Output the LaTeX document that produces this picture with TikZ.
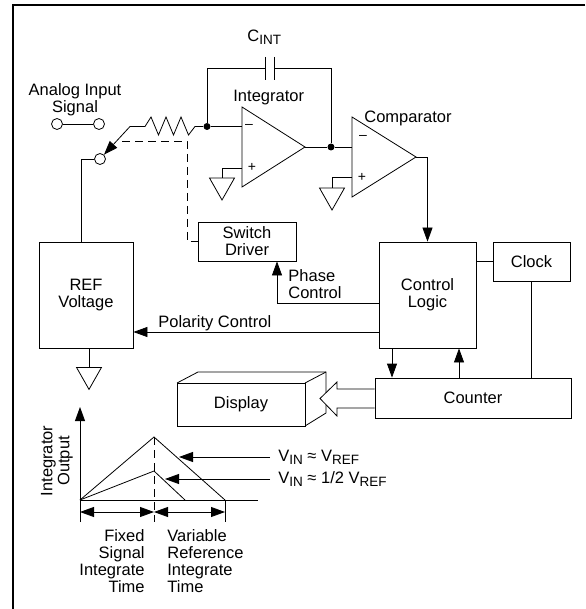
\documentclass[tikz,border=0pt]{standalone}
\usepackage{fontspec}
\setmainfont{Liberation Sans}
\usetikzlibrary{arrows.meta,calc}
\newcommand\subs[1]{\raisebox{-3pt}{\fontsize{13.5}{13.5}\selectfont #1}}
\begin{document}
\begin{tikzpicture}[x=1pt,y=-1pt, line width=0.8pt,
  every node/.style={font=\fontsize{16.5}{17}\selectfont, inner sep=0pt},
  box/.style={draw, rectangle, align=center, fill=white},
  arr/.style={-{Triangle[length=14pt,width=10pt]}},
  darr/.style={{Triangle[length=14pt,width=10pt]}-{Triangle[length=14pt,width=10pt]}},
  dot/.style={circle, fill, minimum size=7pt},
  term/.style={circle, draw, fill=white, minimum size=11pt},
  dsh/.style={dash pattern=on 8pt off 5pt},
  sgn/.style={font=\fontsize{14}{14}\selectfont},
  gnd/.pic={\draw (-12.5,0) -- (12.5,0) -- (0,22) -- cycle;}
]
\useasboundingbox (0,0) rectangle (585,609);
% frame
\draw[line width=2pt] (585,5.5) -- (13,5.5) -- (13,609);

% boxes
\node[box, minimum width=94pt, minimum height=106pt] (ref) at (86,295) {REF\\Voltage};
\node[box, minimum width=97pt, minimum height=106pt] (ctrl) at (427.5,295) {Control\\Logic};
\node[box, minimum width=77pt, minimum height=39pt] (clock) at (531.5,261.5) {Clock};
\node[box, minimum width=196pt, minimum height=40pt] (counter) at (473,398) {Counter};
\node[box, minimum width=98pt, minimum height=39pt] (sw) at (247,241.5) {Switch\\Driver};

% display (3D box)
\draw (177,383) -- (198,372) -- (326,372) -- (326,413) -- (305,426);
\draw (305,383) -- (326,372);
\node[box, minimum width=128pt, minimum height=43pt] (disp) at (241,404.5) {Display};
% wide arrow counter -> display
\draw[fill=white] (counter.west |- 0,389) -- (337,389) -- (337,382) -- (320,398.5) -- (337,416) -- (337,408) -- (counter.west |- 0,408);

% op-amps
\coordinate (intm) at (242,126.5);
\coordinate (intp) at (242,168);
\coordinate (into) at (305,147);
\draw (242,107) -- (242,187) -- (into) -- cycle;
\node[sgn] at (249,126.5) {\textendash};
\node[sgn] at (252,167) {+};
\coordinate (cmpm) at (352,147);
\coordinate (cmpp) at (352,177);
\coordinate (cmpo) at (416,157);
\draw (352,117) -- (352,197) -- (cmpo) -- cycle;
\node[sgn] at (363,137) {\textendash};
\node[sgn] at (362,177) {+};

% labels
\node[anchor=base west] (lint) at (233,102) {Integrator};
\node[anchor=base west] (lcmp) at (364,123) {Comparator};
\node[anchor=base west] (lcint) at (247,42) {C\subs{INT}};
\node[align=center] (lain) at (75,100) {Analog Input\\Signal};
\node[align=left, anchor=west] (lphase) at (288,284.5) {Phase\\Control};
\node[anchor=base west] (lpol) at (158,327) {Polarity Control};

% switch and input
\node[term] (a1) at (57,124) {};
\node[term] (a2) at (99,124) {};
\draw (a1) -- (a2);
\node[term] (s) at (100,159) {};
\coordinate (rl) at (130,126.5);
\node[dot] (j1) at (207,126.5) {};
\node[dot] (j2) at (331,147) {};
\draw[arr] (rl) -- (s);
\draw (rl) -- (145,126.5) -- (151,117) -- (158.5,135) -- (166,117) -- (173.5,135)
  -- (181,117) -- (188.5,135) -- (195,126.5) -- (j1);
\draw (j1) -- (intm);
\draw (into) -- (j2) -- (cmpm);
% capacitor
\draw (j1) |- (265,68);
\draw (265,57) -- (265,80);
\draw (274,57) -- (274,80);
\draw (274,68) -| (j2);
% dashed switch control
\coordinate (dsw) at (122,141);
\draw[dsh] (dsw) -| (187,241.5) -- (sw.west);
% switch to ref
\draw (s.west) -| ($(ref.north)+(-5,0)$);

% grounds
\draw (intp) -| (222,178) pic {gnd};
\draw (cmpp) -| (332,188) pic {gnd};
\draw ($(ref.south)+(3,0)$) -- ++(0,19) pic {gnd};

% control connections
\draw[arr] (cmpo) -| (ctrl.north);
\coordinate (pc) at (277,303);
\draw[arr] (pc -| ctrl.west) -- (pc) -- (pc |- sw.south);
\coordinate (pol) at (300,332);
\draw[arr] (pol -| ctrl.west) -- (pol -| ref.east);
\draw (clock.west) -- (clock.west -| ctrl.east);
\draw (clock.south) -- (clock.south |- counter.north);
\coordinate (cd) at (392,0);
\coordinate (cu) at (459,0);
\draw[arr] (cd |- ctrl.south) -- (cd |- counter.north);
\draw[arr] (cu |- counter.north) -- (cu |- ctrl.south);

% chart
\draw[arr] (80,522) -- (80,407);
\draw (80,500) -- (258,500);
\draw (80,500) -- (154,437) -- (225,500);
\draw (80,500) -- (154,471) -- (185,500);
\draw[dsh] (154,437) -- (154,522);
\draw (225,500) -- (225,522);
\draw[darr] (80,512) -- (154,512);
\draw[darr] (154,512) -- (225,512);
\node[rotate=90, align=center] (lout) at (57,461) {Integrator\\Output};
\node[align=right, anchor=north east] (lfix) at (145,529) {Fixed\\Signal\\Integrate\\Time};
\node[align=left, anchor=north west] (lvar) at (167,529) {Variable\\Reference\\Integrate\\Time};
\node[anchor=west] (lv1) at (278,457) {V\subs{IN} ≈ V\subs{REF}};
\node[anchor=west] (lv2) at (278,479) {V\subs{IN} ≈ 1/2 V\subs{REF}};
\coordinate (t1) at (179,457);
\coordinate (t2) at (165,479);
\draw[arr] ([xshift=-8pt]lv1.west) -- (t1);
\draw[arr] ([xshift=-8pt]lv2.west) -- (t2);
\end{tikzpicture}
\end{document}
